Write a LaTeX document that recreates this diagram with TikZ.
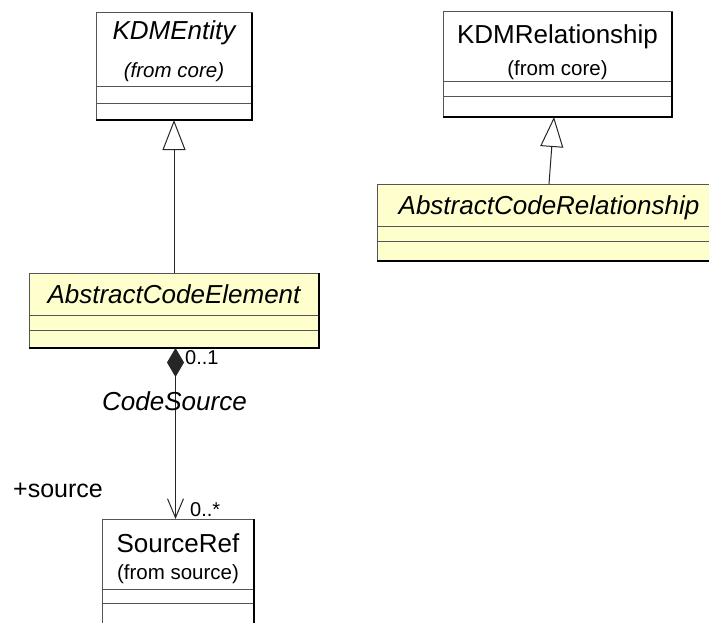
\documentclass[tikz,border=0pt]{standalone}
\usepackage{fontspec}
\setmainfont{Liberation Sans}
\usetikzlibrary{arrows.meta,calc}
\definecolor{classyellow}{RGB}{255,255,206}
\definecolor{edgegray}{RGB}{85,85,85}
\tikzset{
  classbox/.style={draw=edgegray, line width=1pt, inner sep=0pt, outer sep=0pt, anchor=north west},
  nametext/.style={inner sep=0pt, anchor=base, font=\fontsize{26}{30}\selectfont},
  subtext/.style={inner sep=0pt, anchor=base, font=\fontsize{20.5}{24}\selectfont},
  lbl/.style={inner sep=0pt, anchor=base west, font=\fontsize{26}{30}\selectfont},
  multlbl/.style={inner sep=0pt, anchor=base west, font=\fontsize{20}{24}\selectfont},
  gen/.style={draw=black!85, line width=1pt, -{Triangle[open, length=30pt, width=23pt, fill=white]}},
  comp/.style={draw=black!85, line width=1pt, {Diamond[length=29pt, width=17pt]}-{Straight Barb[length=19pt, width=16pt]}},
}
% \umlclass{name}{x1}{y1}{x2}{y2}{div1}{div2}{fill}
\newcommand{\umlclass}[8]{%
  \node[classbox, fill=#8, minimum width=#4pt-#2pt, minimum height=#5pt-#3pt] (#1) at (#2,#3) {};
  \draw[edgegray, line width=1pt] (#2,#6) -- (#4,#6);
  \draw[edgegray, line width=1pt] (#2,#7) -- (#4,#7);
  \draw[black, line width=2pt] (#1.north east) -- (#1.south east) -- (#1.south west);
}
\begin{document}
\begin{tikzpicture}[x=1pt,y=-1pt]
\useasboundingbox (0,0) rectangle (709,623);
\clip (0,0) rectangle (709,623);
\fill[white] (0,0) rectangle (709,623);

% KDMEntity
\umlclass{kdme}{96}{13}{252}{120}{87}{104}{white}
\node[nametext, font=\fontsize{26}{30}\selectfont\itshape] (kdmeName) at (174,40) {KDMEntity};
\node[subtext, font=\fontsize{20.5}{24}\selectfont\itshape] (kdmeFrom) at (174,78) {(from core)};

% KDMRelationship
\umlclass{kdmr}{443}{12}{672}{117}{82}{97}{white}
\node[nametext] (kdmrName) at (557.5,44) {KDMRelationship};
\node[subtext] (kdmrFrom) at (557.5,76) {(from core)};

% AbstractCodeRelationship
\umlclass{acr}{377}{184}{722}{261}{226}{241}{classyellow}
\node[nametext, font=\fontsize{26}{30}\selectfont\itshape] (acrName) at (549,214) {AbstractCodeRelationship};

% AbstractCodeElement
\umlclass{ace}{29}{273}{319}{348}{315}{330}{classyellow}
\node[nametext, font=\fontsize{26}{30}\selectfont\itshape] (aceName) at (174,303) {AbstractCodeElement};

% SourceRef
\umlclass{srcref}{102}{519}{254}{640}{589}{603}{white}
\node[nametext] (srcName) at (178,552) {SourceRef};
\node[subtext] (srcFrom) at (178,579) {(from source)};

% Generalizations
\draw[gen] (ace.north) -- (kdme.south);
\draw[gen] ($(acr.north west)+(172,0)$) -- ($(kdmr.south west)+(111,0)$);

% Composition
\draw[comp] ($(ace.south west)+(146.5,0)$) -- ($(srcref.north west)+(73.5,0)$);

% Labels
\node[lbl, font=\fontsize{26}{30}\selectfont\itshape] (codeSource) at (102,410) {CodeSource};
\node[multlbl] (multOne) at (185,364) {0..1};
\node[lbl, font=\fontsize{25}{30}\selectfont] (roleSource) at (13,497) {+source};
\node[multlbl] (multMany) at (190,516) {0..*};
\end{tikzpicture}
\end{document}
